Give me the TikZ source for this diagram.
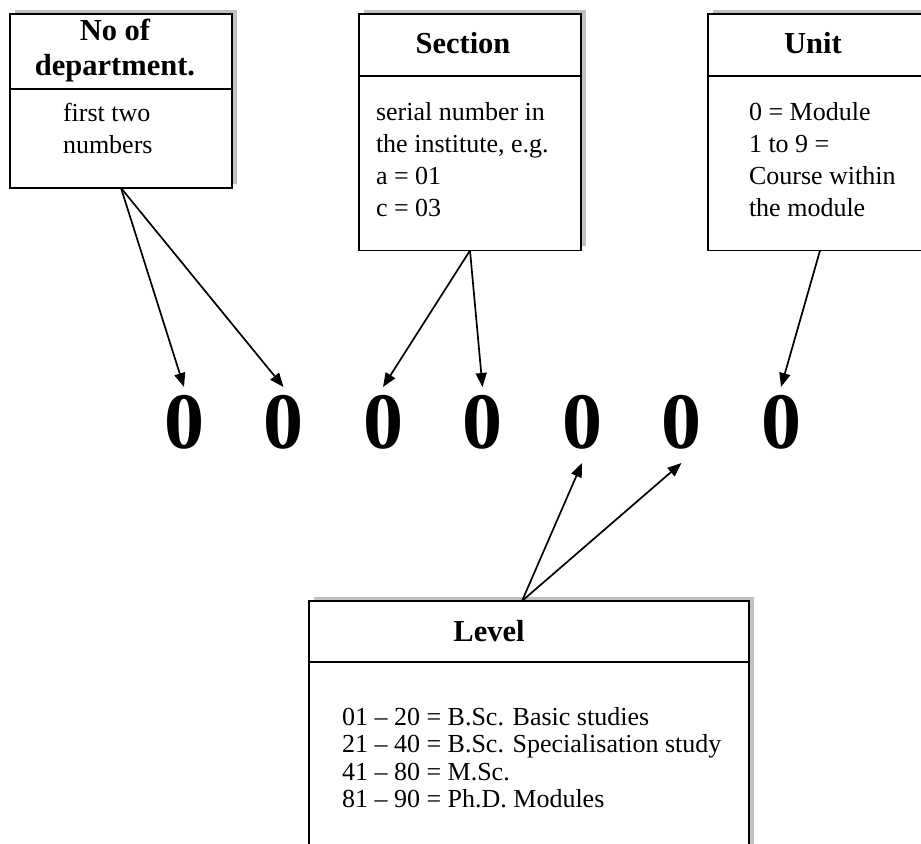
\documentclass[tikz,border=0pt]{standalone}
\usepackage{fontspec}
\setmainfont{Liberation Serif}
\usetikzlibrary{shadows,arrows.meta}

\definecolor{shadowgray}{RGB}{192,192,192}

\tikzset{
    infobox/.style={draw, fill=white, line width=0.8pt, anchor=north west,
        drop shadow={shadow xshift=2.5pt, shadow yshift=2pt, fill=shadowgray, opacity=1}},
    headtext/.style={anchor=base, font=\fontsize{15.25}{17.5}\selectfont\bfseries},
    bodytext/.style={anchor=base west, font=\fontsize{13}{16}\selectfont},
    digit/.style={anchor=base, text height=31pt, text depth=7pt,
        font=\fontsize{40}{44}\selectfont\bfseries},
    pointer/.style={-{Triangle[length=7pt,width=5.5pt]}, line width=0.85pt}
}

\begin{document}
\begin{tikzpicture}[x=0.5pt, y=-0.5pt, inner sep=0pt, outer sep=0pt]
    \useasboundingbox (0,0) rectangle (921,844);

    % No of department
    \node[infobox, minimum width=111pt, minimum height=87pt] (dept) at (10,14) {};
    \draw[line width=0.8pt] ([yshift=-37.5pt]dept.north west) -- ([yshift=-37.5pt]dept.north east);
    \node[headtext] (dept_head) at (115,41)
    {\begin{tabular}[t]{@{}c@{}} No of \\ department. \end{tabular}};
    \node[bodytext] (dept_body) at (63,122)
    {\begin{tabular}[t]{@{}l@{}} first two \\ numbers \end{tabular}};

    % Section
    \node[infobox, minimum width=111pt, minimum height=118.25pt] (sect) at (359,14) {};
    \draw[line width=0.8pt] ([yshift=-31pt]sect.north west) -- ([yshift=-31pt]sect.north east);
    \node[headtext] (sect_head) at (463,54) {Section};
    \node[bodytext] (sect_body) at (376,121)
    {\begin{tabular}[t]{@{}l@{}}
    serial number in \\
    the institute, e.g. \\
    a = 01 \\
    c = 03
    \end{tabular}};

    % Unit
    \node[infobox, minimum width=112pt, minimum height=118.25pt] (unit) at (708,14) {};
    \draw[line width=0.8pt] ([yshift=-31pt]unit.north west) -- ([yshift=-31pt]unit.north east);
    \node[headtext] (unit_head) at (813,54) {Unit};
    \node[bodytext] (unit_body) at (749,121)
    {\begin{tabular}[t]{@{}l@{}}
    0 = Module \\
    1 to 9 = \\
    Course within \\
    the module
    \end{tabular}};

    % Level
    \node[infobox, minimum width=220pt, minimum height=140pt] (level) at (309,601) {};
    \draw[line width=0.8pt] ([yshift=-30.5pt]level.north west) -- ([yshift=-30.5pt]level.north east);
    \node[headtext] (level_head) at (489,641) {Level};
    \node[bodytext, font=\fontsize{13}{13.75}\selectfont] (level_body) at (342,725)
    {\begin{tabular}[t]{@{}l@{}}
    01 -- 20 = B.Sc. Basic studies \\
    21 -- 40 = B.Sc. Specialisation study \\
    41 -- 80 = M.Sc. \\
    81 -- 90 = Ph.D. Modules
    \end{tabular}};

    % the code digits
    \foreach \i in {1,...,7}
        \node[digit] (d\i) at ({184+99.5*(\i-1)},449) {0};

    % connectors
    \draw[pointer] (dept.south) -- (d1.north);
    \draw[pointer] (dept.south) -- (d2.north);
    \draw[pointer] (sect.south) -- (d3.north);
    \draw[pointer] (sect.south) -- (d4.north);
    \draw[pointer] (unit.south) -- (d7.north);
    \draw[pointer] ([xshift=-3.5pt]level.north) -- (d5.south);
    \draw[pointer] ([xshift=-3.5pt]level.north) -- (d6.south);

\end{tikzpicture}
\end{document}
